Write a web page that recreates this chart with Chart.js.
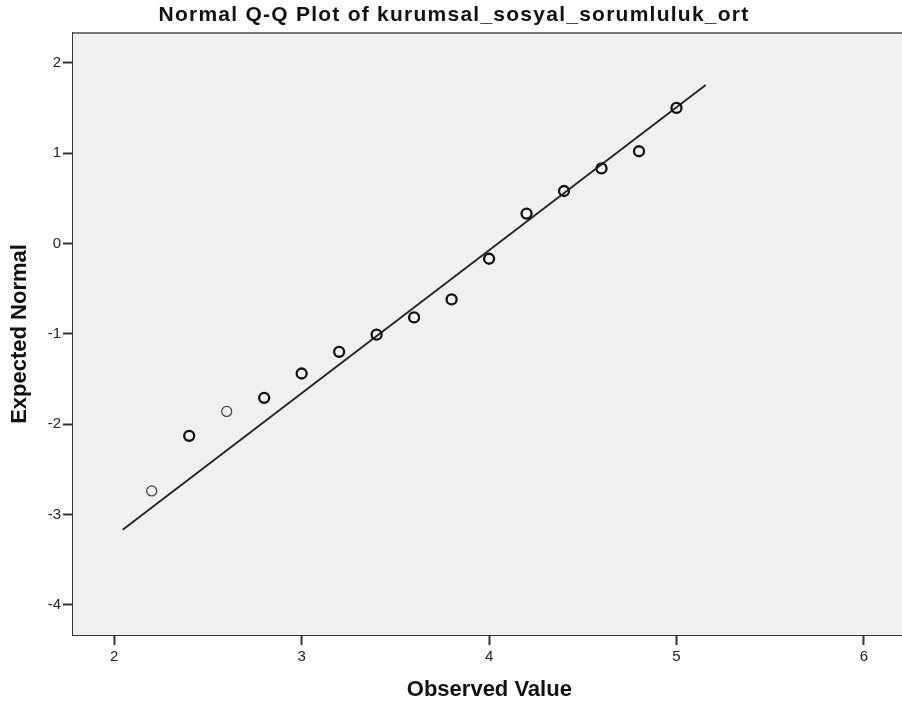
<!DOCTYPE html>
<html>
<head>
<meta charset="utf-8">
<title>Normal Q-Q Plot</title>
<script src="https://cdn.jsdelivr.net/npm/chart.js@4.4.1/dist/chart.umd.min.js"></script>
<style>
    html, body { margin: 0; padding: 0; background: #fff; overflow: hidden; }
    #qq { display: block; }
</style>
</head>
<body>
<canvas id="qq" width="913" height="708" style="width:913px;height:708px"></canvas>
<script>
// observed values and their expected normal quantiles
const observed = [2.2, 2.4, 2.6, 2.8, 3.0, 3.2, 3.4, 3.6, 3.8, 4.0, 4.2, 4.4, 4.6, 4.8, 5.0];
const expected = [-2.74, -2.13, -1.86, -1.71, -1.44, -1.20, -1.01, -0.82, -0.62, -0.17, 0.33, 0.58, 0.83, 1.02, 1.50];

// reference line end points
const lineX = [2.045, 5.156];
const lineY = [-3.17, 1.754];

const xTicks = [2, 3, 4, 5, 6];
const yTicks = [-4, -3, -2, -1, 0, 1, 2];

const chartTitle = 'Normal Q-Q Plot of kurumsal_sosyal_sorumluluk_ort';

const thinPoints = [0, 2];

const plotFrame = {
    id: 'plotFrame',
    beforeDatasetsDraw(chart) {
        const { ctx, chartArea: a } = chart;
        ctx.save();
        ctx.fillStyle = '#f0f0f0';
        ctx.fillRect(a.left, a.top, a.right - a.left, a.bottom - a.top);
        ctx.strokeStyle = '#777';
        ctx.lineWidth = 2;
        ctx.beginPath();
        ctx.moveTo(a.left, a.top);
        ctx.lineTo(a.right, a.top);
        ctx.lineTo(a.right, a.bottom);
        ctx.stroke();
        ctx.restore();
    }
};

// spss style title, a bit more spaced than the chart.js title allows
const spacedTitle = {
    id: 'spacedTitle',
    afterDraw(chart) {
        const ctx = chart.ctx;
        ctx.save();
        ctx.font = "bold 21px 'Liberation Sans', Arial, sans-serif";
        ctx.letterSpacing = '1.25px';
        ctx.fillStyle = '#111';
        ctx.textAlign = 'center';
        ctx.textBaseline = 'alphabetic';
        ctx.fillText(chartTitle, 454, 21);
        ctx.restore();
    }
};

const axisFont = { family: "'Liberation Sans', Arial, sans-serif", size: 22, weight: 'bold' };
const tickFont = { family: "'Liberation Sans', Arial, sans-serif", size: 15 };

new Chart(document.getElementById('qq').getContext('2d'), {
    type: 'scatter',
    data: {
        datasets: [
            {
                label: 'Observed',
                data: observed.map((x, i) => ({ x: x, y: expected[i] })),
                backgroundColor: 'rgba(0,0,0,0)',
                borderColor: ctx => thinPoints.includes(ctx.dataIndex) ? '#444' : '#111',
                borderWidth: ctx => thinPoints.includes(ctx.dataIndex) ? 1.3 : 2.3,
                pointRadius: 5,
                order: 1
            },
            {
                label: 'Line',
                data: lineX.map((x, i) => ({ x: x, y: lineY[i] })),
                showLine: true,
                borderColor: '#222',
                borderWidth: 1.8,
                pointRadius: 0,
                order: 2
            }
        ]
    },
    options: {
        responsive: false,
        devicePixelRatio: 1,
        animation: false,
        events: [],
        layout: { padding: { top: 33, left: 0, right: 0, bottom: 0 } },
        plugins: {
            legend: { display: false },
            tooltip: { enabled: false },
            title: { display: false }
        },
        scales: {
            x: {
                type: 'linear',
                min: 1.78,
                max: 6.223,
                afterFit: scale => {
                    scale.height = 73;
                    scale.paddingLeft = 0;
                    scale.paddingRight = 0;
                },
                afterBuildTicks: scale => { scale.ticks = xTicks.map(v => ({ value: v })); },
                ticks: { font: tickFont, color: '#222', padding: 3, includeBounds: false },
                grid: { drawOnChartArea: false, drawTicks: true, tickLength: 10, tickColor: '#333', tickWidth: 2 },
                border: { display: true, color: '#333', width: 2 },
                title: { display: true, text: 'Observed Value', color: '#111', font: axisFont, padding: { top: 0, bottom: 4.8 } }
            },
            y: {
                type: 'linear',
                min: -4.335,
                max: 2.329,
                afterFit: scale => {
                    scale.width = 73;
                    scale.paddingTop = 0;
                    scale.paddingBottom = 0;
                },
                afterBuildTicks: scale => { scale.ticks = yTicks.map(v => ({ value: v })); },
                ticks: { font: tickFont, color: '#222', padding: 2, includeBounds: false },
                grid: { drawOnChartArea: false, drawTicks: true, tickLength: 10, tickColor: '#333', tickWidth: 2 },
                border: { display: true, color: '#333', width: 2 },
                title: { display: true, text: 'Expected Normal', color: '#111', font: axisFont, padding: { top: 6.8, bottom: 0 } }
            }
        }
    },
    plugins: [plotFrame, spacedTitle]
});
</script>
</body>
</html>
